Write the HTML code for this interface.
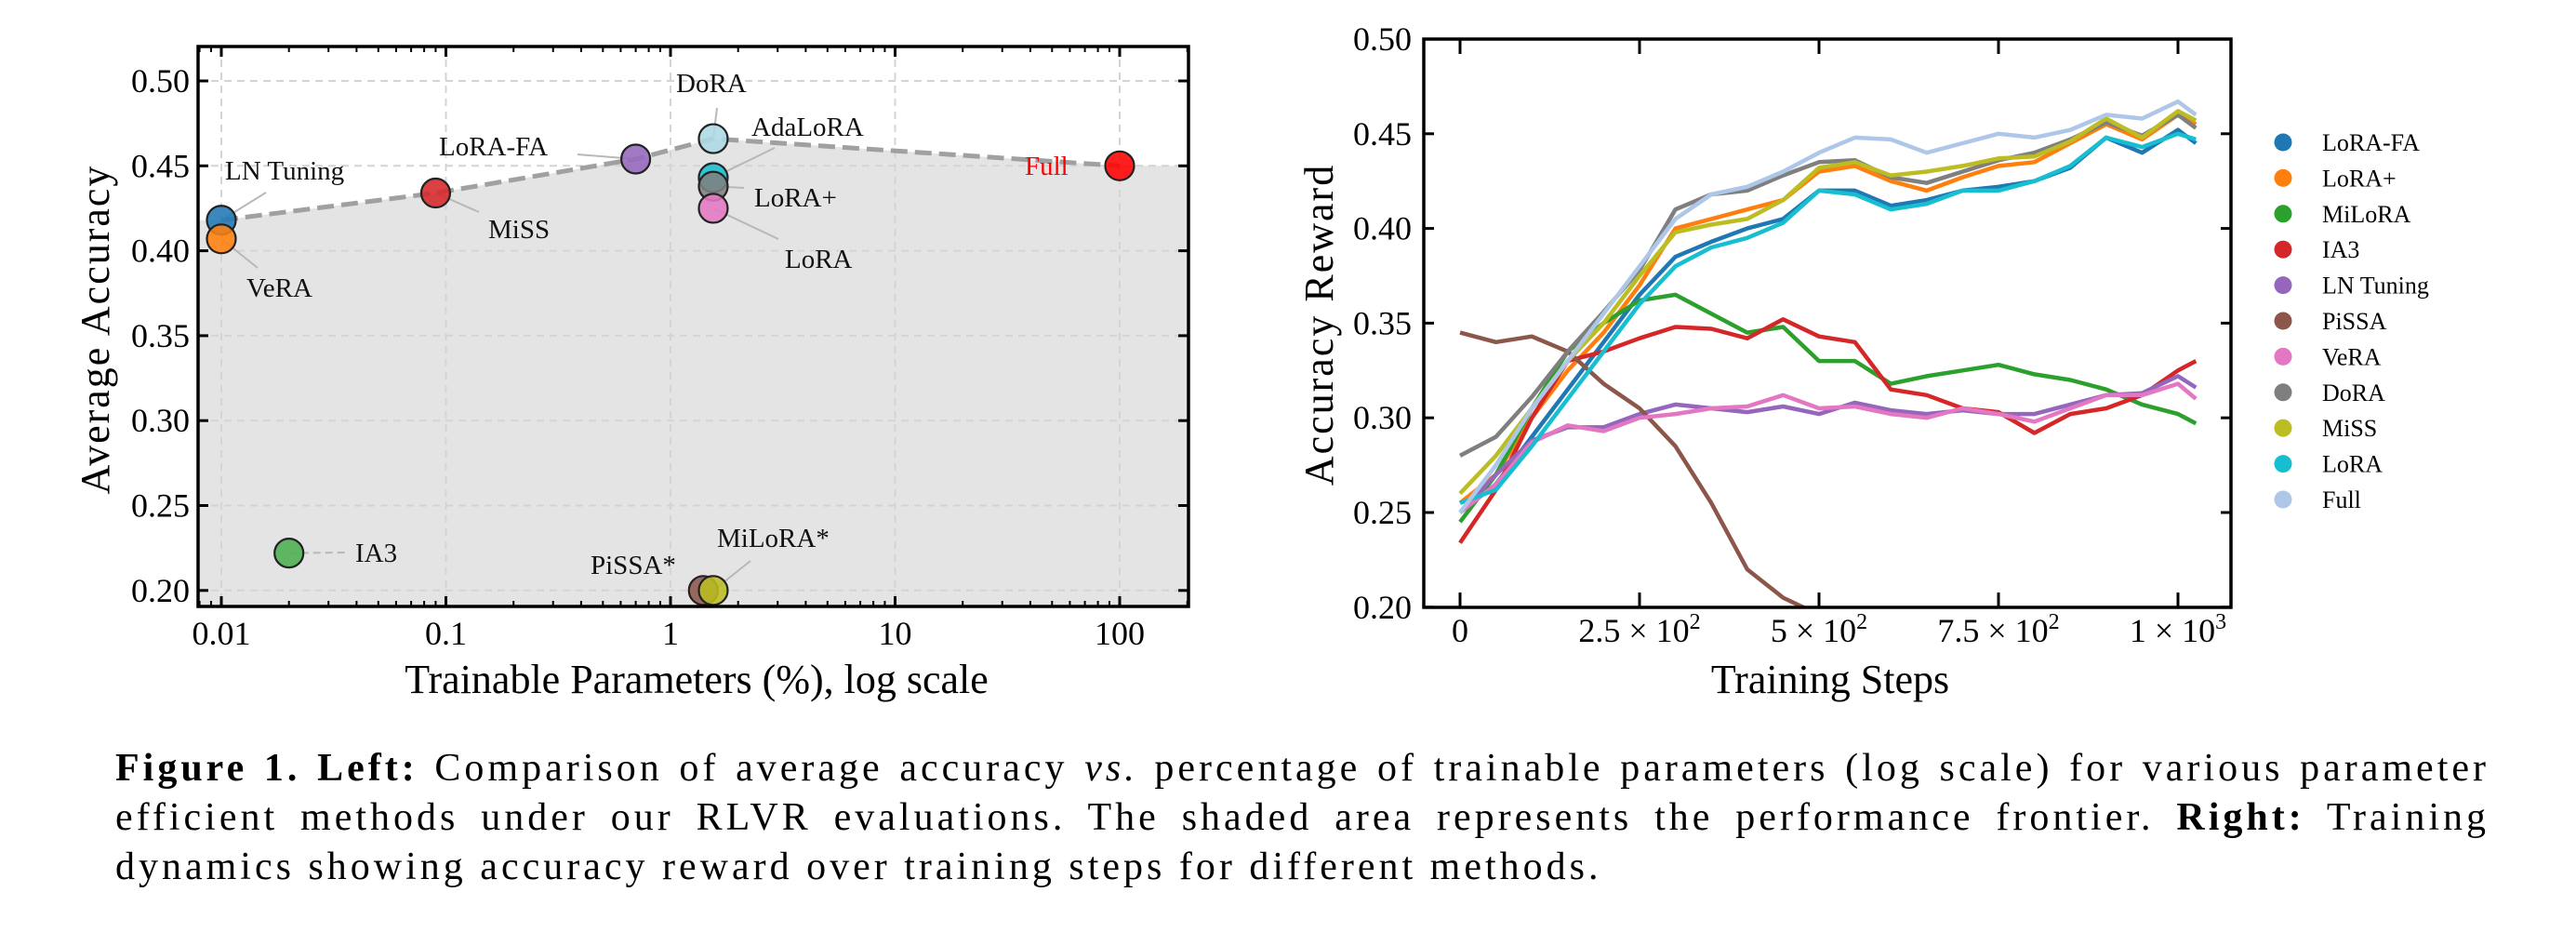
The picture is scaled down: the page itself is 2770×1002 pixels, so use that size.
<!DOCTYPE html>
<html><head><meta charset="utf-8"><style>
html,body{margin:0;padding:0;background:#fff;}
body{width:2770px;height:1002px;overflow:hidden;position:relative;font-family:"Liberation Serif",serif;}
#cap{position:absolute;left:124px;top:800px;width:2553px;font-size:42px;line-height:53px;color:#000;letter-spacing:4px;}
#cap .ln{text-align:justify;text-align-last:justify;white-space:nowrap;}
#cap .ln.last{text-align-last:left;}
</style></head><body>
<svg id="fig" width="2770" height="800" style="position:absolute;left:0;top:0" font-family="Liberation Serif, serif"></svg>
<div id="cap">
<div class="ln" style="white-space:normal"><b>Figure 1. Left:</b> Comparison of average accuracy <i>vs.</i> percentage of trainable parameters (log scale) for various parameter</div>
<div class="ln" style="white-space:normal">efficient methods under our RLVR evaluations. The shaded area represents the performance frontier. <b>Right:</b> Training</div>
<div class="ln last">dynamics showing accuracy reward over training steps for different methods.</div>
</div>
<script>
// ---------- Left chart data ----------
const methods = ["LN Tuning","VeRA","MiSS","LoRA-FA","DoRA","AdaLoRA","LoRA+","LoRA","Full","IA3","PiSSA*","MiLoRA*"];
const params = [0.01,0.01,0.09,0.7,1.55,1.55,1.55,1.55,100,0.02,1.4,1.55];
const accs = [0.418,0.407,0.434,0.454,0.466,0.443,0.438,0.425,0.450,0.222,0.200,0.200];
const pointColors = ["#1f77b4","#ff7f0e","#d62728","#9467bd","#add8e6","#17becf","#7f7f7f","#e377c2","#ff0000","#4caf50","#8c564b","#bcbd22"];
const frontierX = [0.01,0.09,0.7,1.55,100];
const frontierY = [0.418,0.434,0.454,0.466,0.450];
const leftYTicks = [0.20,0.25,0.30,0.35,0.40,0.45,0.50];
const leftXTicks = [0.01,0.1,1,10,100];
const leftXTickLabels = ["0.01","0.1","1","10","100"];

// ---------- Right chart data ----------
const steps = [0,50,100,150,200,250,300,350,400,450,500,550,600,650,700,750,800,850,900,950,1000,1025];
const sLoRAFA = [0.25,0.265,0.29,0.315,0.34,0.365,0.385,0.393,0.40,0.405,0.42,0.42,0.412,0.415,0.42,0.422,0.425,0.432,0.448,0.44,0.452,0.445];
const sLoRAPlus = [0.255,0.27,0.30,0.325,0.345,0.37,0.40,0.405,0.41,0.415,0.43,0.433,0.425,0.42,0.427,0.433,0.435,0.445,0.455,0.447,0.46,0.455];
const sMiLoRA = [0.245,0.27,0.305,0.335,0.35,0.362,0.365,0.355,0.345,0.348,0.33,0.33,0.318,0.322,0.325,0.328,0.323,0.32,0.315,0.307,0.302,0.297];
const sIA3 = [0.234,0.262,0.30,0.33,0.335,0.342,0.348,0.347,0.342,0.352,0.343,0.34,0.315,0.312,0.305,0.303,0.292,0.302,0.305,0.312,0.325,0.33];
const sLN = [0.25,0.27,0.288,0.295,0.295,0.302,0.307,0.305,0.303,0.306,0.302,0.308,0.304,0.302,0.304,0.302,0.302,0.307,0.312,0.313,0.322,0.316];
const sPiSSA = [0.345,0.34,0.343,0.335,0.318,0.305,0.285,0.255,0.22,0.205,0.196];
const sVeRA = [0.25,0.265,0.287,0.296,0.293,0.30,0.302,0.305,0.306,0.312,0.305,0.306,0.302,0.30,0.305,0.302,0.298,0.305,0.312,0.312,0.318,0.31];
const sDoRA = [0.28,0.29,0.311,0.335,0.356,0.378,0.41,0.418,0.42,0.428,0.435,0.436,0.427,0.424,0.43,0.436,0.44,0.447,0.456,0.449,0.46,0.453];
const sMiSS = [0.26,0.28,0.305,0.33,0.35,0.375,0.398,0.402,0.405,0.415,0.432,0.435,0.428,0.43,0.433,0.437,0.438,0.446,0.458,0.448,0.462,0.457];
const sLoRA = [0.255,0.262,0.285,0.31,0.335,0.36,0.38,0.39,0.395,0.403,0.42,0.418,0.41,0.413,0.42,0.42,0.425,0.433,0.448,0.443,0.45,0.447];
const sFull = [0.25,0.275,0.305,0.33,0.355,0.38,0.405,0.418,0.422,0.43,0.44,0.448,0.447,0.44,0.445,0.45,0.448,0.452,0.46,0.458,0.467,0.46];
const seriesNames = ["LoRA-FA","LoRA+","MiLoRA","IA3","LN Tuning","PiSSA","VeRA","DoRA","MiSS","LoRA","Full"];
const seriesColors = ["#1f77b4","#ff7f0e","#2ca02c","#d62728","#9467bd","#8c564b","#e377c2","#7f7f7f","#bcbd22","#17becf","#aec7e8"];
const seriesData = [sLoRAFA,sLoRAPlus,sMiLoRA,sIA3,sLN,sPiSSA,sVeRA,sDoRA,sMiSS,sLoRA,sFull];
const rightYTicks = [0.20,0.25,0.30,0.35,0.40,0.45,0.50];
const rightXTicks = [0,250,500,750,1000];

const NS="http://www.w3.org/2000/svg";
const svg=document.getElementById('fig');
function mk(tag,attrs,parent){const e=document.createElementNS(NS,tag);for(const k in attrs)e.setAttribute(k,attrs[k]);(parent||svg).appendChild(e);return e;}

// ===== LEFT =====
const L={x0:213,x1:1278,y0:50,y1:652};
const lx=v=>238+241.5*Math.log10(v/0.01);
const ly=v=>87+(0.5-v)/0.05*91.3;
const gL=mk('g',{});


let d=`M${L.x0},${L.y1} L${L.x0},${ly(frontierY[0])}`;
frontierX.forEach((v,i)=>{d+=` L${lx(v)},${ly(frontierY[i])}`;});
d+=` L${L.x1},${ly(frontierY[frontierY.length-1])} L${L.x1},${L.y1} Z`;
const sh=mk('path',{d:d,fill:'#e4e4e4'},gL);


leftYTicks.forEach(t=>{mk('line',{x1:L.x0,x2:L.x1,y1:ly(t),y2:ly(t),stroke:'#d4d4d4','stroke-width':2,'stroke-dasharray':'8 6'},gL);});
leftXTicks.forEach(t=>{mk('line',{x1:lx(t),x2:lx(t),y1:L.y0,y2:L.y1,stroke:'#d4d4d4','stroke-width':2,'stroke-dasharray':'8 6'},gL);});
let fd='';frontierX.forEach((v,i)=>{fd+=(i?' L':'M')+lx(v)+','+ly(frontierY[i]);});
const fl=mk('path',{d:fd,fill:'none',stroke:'#a0a0a0','stroke-width':5,'stroke-dasharray':'18 8'},gL);


const labelPos=[[242,183,'start',286,207],[265,309,'start',277,288],[525,246,'start',515,228],[472,157,'start',621,166],[727,89,'start',771,116],[808,136,'start',833,159],[811,212,'start',800,202],[844,278,'start',837,257],[1102,178,'start',null,null],[382,594,'start',371,594],[635,607,'start',null,null],[771,578,'start',807,603]];
methods.forEach((m,i)=>{
  const p=labelPos[i];
  if(p[3]!==null){const ln=mk('line',{x1:lx(params[i]),y1:ly(accs[i]),x2:p[3],y2:p[4],stroke:'#b8b8b8','stroke-width':2,'stroke-dasharray':i==9?'8 5':'none'},gL);
    
    }
});
methods.forEach((m,i)=>{
  const c=mk('circle',{cx:lx(params[i]),cy:ly(accs[i]),r:15.5,fill:pointColors[i],'fill-opacity':0.88,stroke:'#222','stroke-width':2.2},gL);
  
  
});
methods.forEach((m,i)=>{
  const p=labelPos[i];
  const t=mk('text',{x:p[0],y:p[1]+10,'font-size':29,fill:i==8?'#ff0000':'#111','text-anchor':p[2]},gL);
  t.textContent=m;
  
  
});
mk('rect',{x:L.x0,y:L.y0,width:L.x1-L.x0,height:L.y1-L.y0,fill:'none',stroke:'#000','stroke-width':3.5},gL);
leftYTicks.forEach(t=>{
  mk('line',{x1:L.x0,x2:L.x0+11,y1:ly(t),y2:ly(t),stroke:'#000','stroke-width':3},gL);
  mk('line',{x1:L.x1,x2:L.x1-11,y1:ly(t),y2:ly(t),stroke:'#000','stroke-width':3},gL);
  const tx=mk('text',{x:204,y:ly(t)+12,'font-size':36,'text-anchor':'end'},gL);tx.textContent=t.toFixed(2);
  
  
});
leftXTicks.forEach((t,i)=>{
  mk('line',{x1:lx(t),x2:lx(t),y1:L.y1,y2:L.y1-11,stroke:'#000','stroke-width':3},gL);
  mk('line',{x1:lx(t),x2:lx(t),y1:L.y0,y2:L.y0+11,stroke:'#000','stroke-width':3},gL);
  const tx=mk('text',{x:lx(t),y:693,'font-size':36,'text-anchor':'middle'},gL);tx.textContent=leftXTickLabels[i];
  
  
});
for(let e=-3;e<=2;e++){for(let k=2;k<=9;k++){const v=k*Math.pow(10,e);const x=lx(v);if(x<=L.x0||x>=L.x1)continue;
  mk('line',{x1:x,x2:x,y1:L.y1,y2:L.y1-6,stroke:'#000','stroke-width':2},gL);
  mk('line',{x1:x,x2:x,y1:L.y0,y2:L.y0+6,stroke:'#000','stroke-width':2},gL);}}
let t1=mk('text',{x:749,y:745,'font-size':44,'text-anchor':'middle'},gL);t1.textContent='Trainable Parameters (%), log scale';


let t2=mk('text',{x:0,y:0,'font-size':44,'text-anchor':'middle','letter-spacing':2,transform:'translate(117,354) rotate(-90)'},gL);t2.textContent='Average Accuracy';



// ===== RIGHT =====
const R={x0:1531,x1:2399,y0:42,y1:653};
const rx=v=>1570+v*0.772;
const ry=v=>42+(0.5-v)/0.05*101.8;
const gR=mk('g',{});


mk('clipPath',{id:'rclip'},gR);
mk('rect',{x:R.x0,y:R.y0,width:R.x1-R.x0,height:R.y1-R.y0},document.getElementById('rclip'));
seriesData.forEach((arr,i)=>{
  let pd='';arr.forEach((v,j)=>{pd+=(j?' L':'M')+rx(steps[j]).toFixed(1)+','+ry(v).toFixed(1);});
  const p=mk('path',{d:pd,fill:'none',stroke:seriesColors[i],'stroke-width':4.5,'stroke-linejoin':'round','clip-path':'url(#rclip)'},gR);
  
  
});
mk('rect',{x:R.x0,y:R.y0,width:R.x1-R.x0,height:R.y1-R.y0,fill:'none',stroke:'#000','stroke-width':3.5},gR);
rightYTicks.forEach(t=>{
  mk('line',{x1:R.x0,x2:R.x0+11,y1:ry(t),y2:ry(t),stroke:'#000','stroke-width':3},gR);
  mk('line',{x1:R.x1,x2:R.x1-11,y1:ry(t),y2:ry(t),stroke:'#000','stroke-width':3},gR);
  const tx=mk('text',{x:1518,y:ry(t)+12,'font-size':36,'text-anchor':'end'},gR);tx.textContent=t.toFixed(2);
  
  
});
const xtl=[['0',''],['2.5 × 10','2'],['5 × 10','2'],['7.5 × 10','2'],['1 × 10','3']];
rightXTicks.forEach((t,i)=>{
  mk('line',{x1:rx(t),x2:rx(t),y1:R.y1,y2:R.y1-16,stroke:'#000','stroke-width':3},gR);
  mk('line',{x1:rx(t),x2:rx(t),y1:R.y0,y2:R.y0+16,stroke:'#000','stroke-width':3},gR);
  const tx=mk('text',{x:rx(t),y:690,'font-size':36,'text-anchor':'middle'},gR);
  tx.textContent=xtl[i][0];
  if(xtl[i][1]){const s=mk('tspan',{dy:-14,'font-size':24},tx);s.textContent=xtl[i][1];}
  
  
});
let t3=mk('text',{x:1968,y:745,'font-size':44,'text-anchor':'middle'},gR);t3.textContent='Training Steps';


let t4=mk('text',{x:0,y:0,'font-size':44,'text-anchor':'middle','letter-spacing':2,transform:'translate(1433,349) rotate(-90)'},gR);t4.textContent='Accuracy Reward';


const lg=mk('g',{},gR);


seriesNames.forEach((n,i)=>{
  const y=153+i*38.4;
  const e=mk('g',{},lg);
  
  
  mk('circle',{cx:2455,cy:y,r:9.5,fill:seriesColors[i]},e);
  const tx=mk('text',{x:2497,y:y+9,'font-size':26},e);tx.textContent=n;
});
</script>
</body></html>
